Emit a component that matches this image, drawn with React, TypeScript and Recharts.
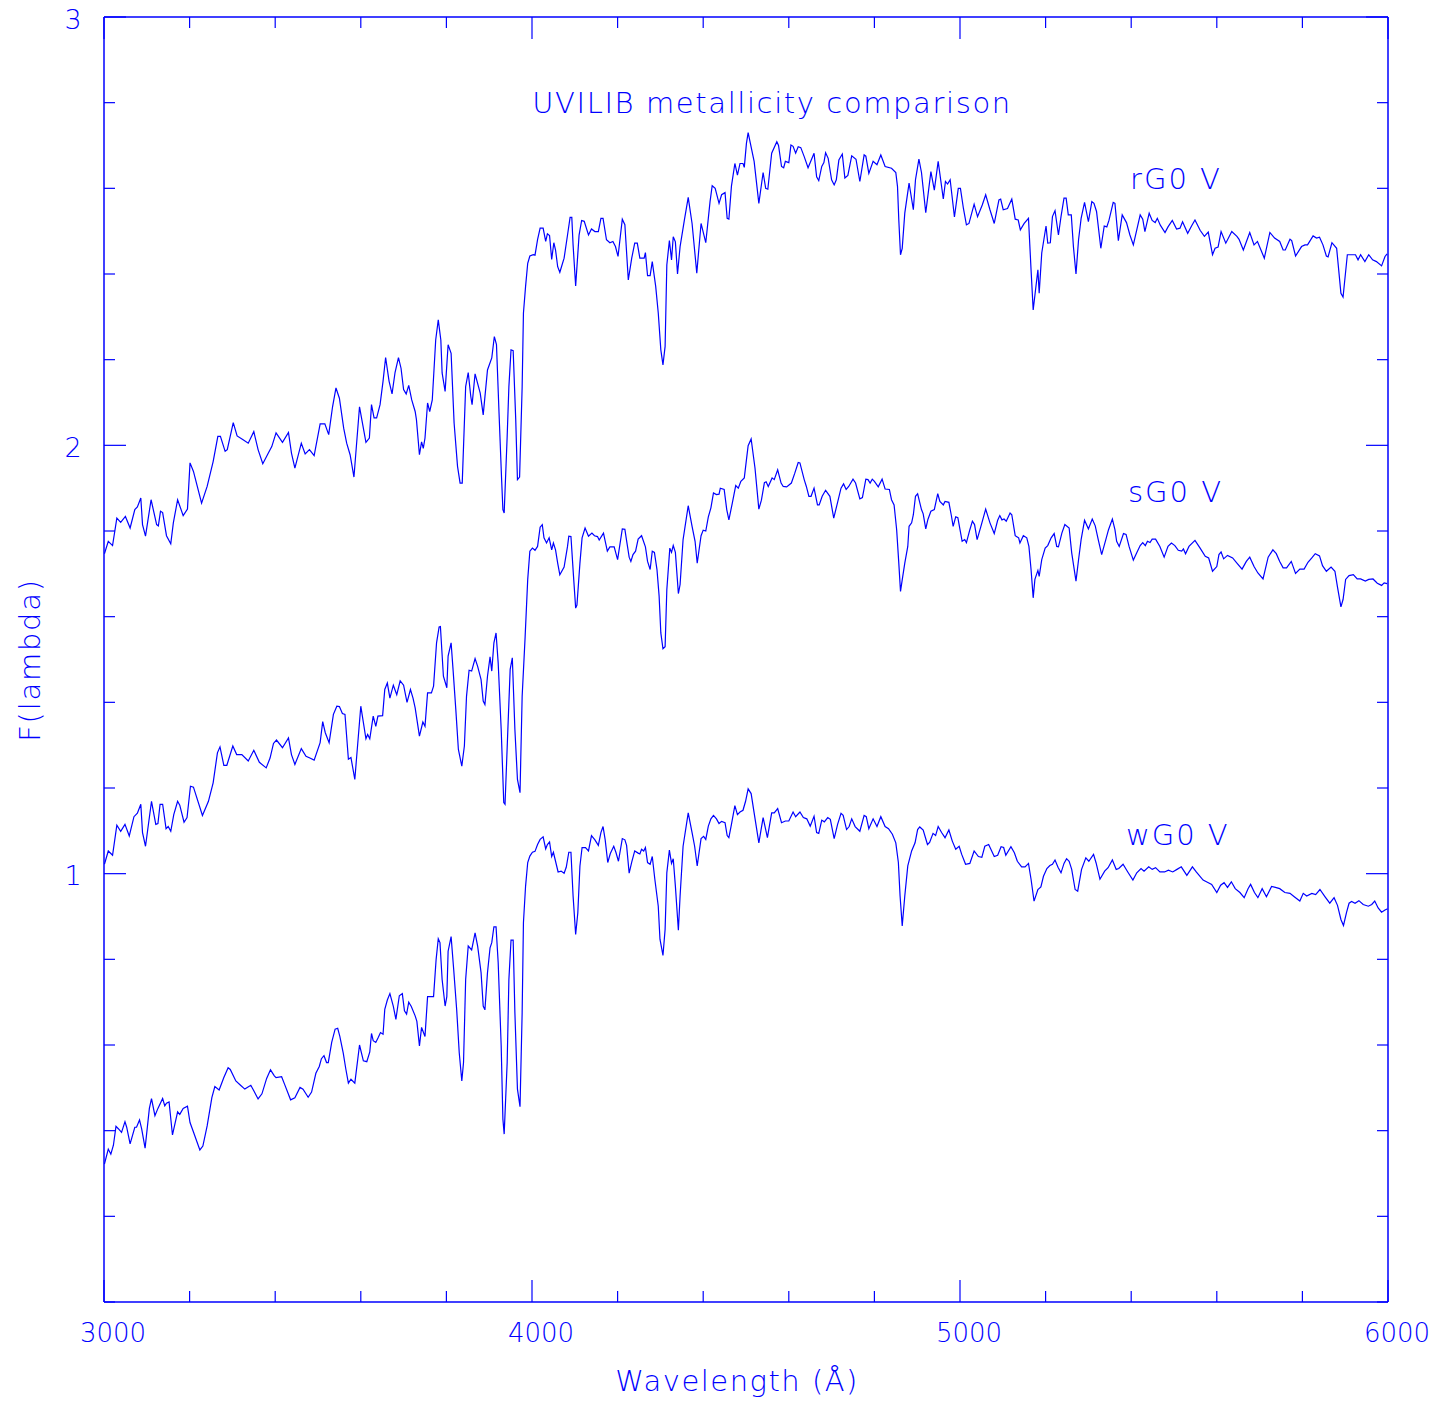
import { LineChart, Line, XAxis, YAxis } from "recharts";

// spectra: [wavelength (Å), F(lambda)]
const rG0: [number, number][] = [
  [3001,1.747],[3010,1.776],[3020,1.766],[3030,1.830],[3039,1.820],[3050,1.834],[3061,1.807],[3072,1.850],
  [3078,1.856],[3086,1.877],[3090,1.815],[3097,1.788],[3110,1.873],[3123,1.815],[3127,1.812],[3132,1.846],
  [3137,1.843],[3146,1.789],[3156,1.770],[3162,1.819],[3172,1.873],[3185,1.836],[3195,1.851],[3201,1.959],
  [3209,1.939],[3228,1.865],[3241,1.904],[3255,1.962],[3266,2.021],[3272,2.021],[3283,1.986],[3288,1.990],
  [3302,2.053],[3311,2.022],[3325,2.013],[3337,2.005],[3350,2.032],[3360,1.990],[3371,1.957],[3384,1.982],
  [3392,1.997],[3402,2.029],[3417,2.007],[3431,2.030],[3438,1.982],[3446,1.947],[3461,2.005],[3470,1.980],
  [3480,1.990],[3491,1.976],[3505,2.050],[3516,2.050],[3525,2.025],[3534,2.090],[3542,2.134],[3550,2.110],
  [3560,2.040],[3567,2.005],[3575,1.978],[3584,1.926],[3597,2.090],[3612,2.007],[3620,2.017],[3625,2.095],
  [3631,2.064],[3637,2.064],[3645,2.095],[3652,2.150],[3658,2.205],[3666,2.150],[3673,2.120],[3680,2.170],
  [3688,2.205],[3694,2.180],[3700,2.130],[3706,2.120],[3712,2.140],[3719,2.106],[3727,2.079],[3730,2.060],
  [3737,1.978],[3742,2.008],[3746,1.993],[3750,2.017],[3756,2.099],[3761,2.079],[3767,2.106],[3775,2.246],
  [3781,2.293],[3787,2.246],[3790,2.169],[3797,2.126],[3804,2.235],[3811,2.215],[3818,2.052],[3826,1.951],
  [3832,1.912],[3837,1.912],[3845,2.137],[3851,2.170],[3857,2.114],[3860,2.095],[3867,2.167],[3879,2.122],
  [3886,2.071],[3896,2.176],[3906,2.204],[3912,2.254],[3917,2.235],[3923,2.075],[3929,1.920],[3932,1.850],
  [3935,1.842],[3942,2.021],[3946,2.137],[3951,2.223],[3956,2.221],[3962,2.060],[3966,1.920],[3971,1.926],
  [3977,2.137],[3980,2.309],[3985,2.371],[3990,2.425],[3995,2.442],[4003,2.445],[4007,2.444],[4013,2.480],
  [4019,2.507],[4026,2.507],[4032,2.476],[4036,2.494],[4041,2.490],[4046,2.434],[4051,2.473],[4055,2.456],
  [4060,2.417],[4065,2.404],[4075,2.437],[4083,2.491],[4089,2.532],[4093,2.532],[4096,2.468],[4102,2.372],
  [4110,2.491],[4116,2.525],[4122,2.523],[4132,2.491],[4139,2.505],[4147,2.499],[4155,2.499],[4161,2.530],
  [4166,2.530],[4174,2.480],[4182,2.473],[4189,2.476],[4195,2.464],[4201,2.441],[4211,2.528],[4217,2.515],
  [4225,2.386],[4233,2.437],[4240,2.472],[4246,2.472],[4252,2.437],[4262,2.437],[4265,2.450],[4270,2.396],
  [4276,2.396],[4281,2.429],[4289,2.371],[4295,2.309],[4301,2.223],[4306,2.188],[4311,2.231],[4315,2.421],
  [4321,2.478],[4326,2.433],[4330,2.487],[4335,2.475],[4340,2.400],[4346,2.464],[4356,2.526],[4365,2.579],
  [4374,2.518],[4385,2.402],[4395,2.518],[4406,2.473],[4416,2.569],[4421,2.606],[4428,2.600],[4437,2.565],
  [4443,2.585],[4451,2.590],[4456,2.530],[4460,2.528],[4466,2.605],[4474,2.658],[4480,2.631],[4486,2.658],
  [4493,2.658],[4496,2.649],[4501,2.705],[4505,2.730],[4519,2.663],[4530,2.565],[4540,2.637],[4546,2.600],
  [4551,2.598],[4560,2.682],[4572,2.709],[4576,2.700],[4583,2.651],[4588,2.648],[4592,2.663],[4600,2.660],
  [4605,2.701],[4610,2.698],[4616,2.682],[4622,2.697],[4628,2.695],[4636,2.674],[4645,2.648],[4659,2.682],
  [4665,2.627],[4670,2.618],[4677,2.651],[4682,2.660],[4686,2.683],[4692,2.670],[4700,2.620],[4706,2.608],
  [4711,2.620],[4717,2.666],[4725,2.680],[4731,2.624],[4738,2.630],[4747,2.676],[4757,2.668],[4766,2.616],
  [4776,2.678],[4780,2.675],[4787,2.635],[4797,2.663],[4806,2.655],[4815,2.678],[4825,2.651],[4840,2.647],
  [4850,2.637],[4854,2.604],[4857,2.526],[4861,2.445],[4865,2.460],[4871,2.542],[4881,2.612],[4891,2.550],
  [4896,2.620],[4904,2.668],[4910,2.637],[4920,2.543],[4932,2.639],[4940,2.596],[4949,2.663],[4961,2.575],
  [4966,2.616],[4971,2.610],[4977,2.620],[4987,2.533],[4996,2.600],[5001,2.600],[5008,2.553],[5015,2.515],
  [5021,2.518],[5033,2.563],[5041,2.534],[5052,2.561],[5060,2.585],[5070,2.550],[5080,2.518],[5091,2.573],
  [5095,2.575],[5101,2.550],[5111,2.553],[5121,2.575],[5129,2.528],[5136,2.526],[5141,2.503],[5150,2.518],
  [5160,2.530],[5166,2.410],[5171,2.316],[5182,2.410],[5185,2.355],[5191,2.449],[5201,2.512],[5205,2.472],
  [5211,2.473],[5216,2.534],[5222,2.548],[5230,2.491],[5236,2.534],[5243,2.577],[5248,2.577],[5253,2.538],
  [5260,2.538],[5265,2.464],[5271,2.400],[5277,2.480],[5283,2.530],[5291,2.567],[5300,2.522],[5308,2.569],
  [5313,2.565],[5319,2.546],[5329,2.460],[5337,2.512],[5343,2.510],[5348,2.525],[5358,2.567],[5362,2.565],
  [5370,2.478],[5379,2.538],[5389,2.520],[5397,2.491],[5405,2.468],[5413,2.503],[5421,2.538],[5427,2.528],
  [5432,2.499],[5442,2.542],[5449,2.525],[5456,2.520],[5461,2.530],[5468,2.514],[5479,2.497],[5486,2.510],
  [5496,2.525],[5506,2.505],[5514,2.507],[5520,2.522],[5532,2.495],[5541,2.512],[5549,2.526],[5561,2.502],
  [5571,2.488],[5580,2.498],[5590,2.445],[5596,2.460],[5603,2.463],[5610,2.499],[5621,2.472],[5635,2.499],
  [5647,2.488],[5652,2.481],[5662,2.456],[5677,2.497],[5687,2.468],[5695,2.476],[5711,2.437],[5724,2.497],
  [5735,2.484],[5747,2.476],[5755,2.456],[5760,2.456],[5771,2.481],[5775,2.478],[5784,2.442],[5798,2.464],
  [5806,2.468],[5812,2.468],[5825,2.489],[5833,2.484],[5840,2.486],[5848,2.468],[5856,2.442],[5860,2.440],
  [5869,2.473],[5880,2.460],[5890,2.355],[5895,2.346],[5905,2.445],[5914,2.445],[5924,2.445],[5930,2.433],
  [5936,2.445],[5946,2.429],[5955,2.445],[5964,2.433],[5973,2.429],[5985,2.419],[5993,2.441],[5998,2.447],
];

const sG0: [number, number][] = [
  [3001,1.022],[3010,1.053],[3020,1.043],[3030,1.113],[3039,1.099],[3049,1.115],[3059,1.088],[3070,1.133],
  [3078,1.141],[3086,1.162],[3090,1.096],[3097,1.064],[3111,1.169],[3121,1.115],[3126,1.117],[3131,1.162],
  [3137,1.162],[3145,1.105],[3150,1.110],[3156,1.099],[3163,1.138],[3172,1.169],[3177,1.160],[3187,1.120],
  [3194,1.131],[3202,1.204],[3209,1.202],[3230,1.136],[3244,1.169],[3255,1.212],[3265,1.282],[3271,1.296],
  [3280,1.253],[3287,1.253],[3301,1.298],[3310,1.278],[3322,1.278],[3337,1.263],[3350,1.288],[3363,1.260],
  [3379,1.247],[3388,1.270],[3396,1.304],[3403,1.312],[3417,1.294],[3431,1.317],[3438,1.278],[3446,1.255],
  [3461,1.292],[3472,1.274],[3481,1.270],[3491,1.265],[3505,1.306],[3511,1.355],[3517,1.329],[3526,1.306],
  [3536,1.372],[3544,1.391],[3550,1.390],[3557,1.374],[3563,1.372],[3571,1.267],[3577,1.271],[3586,1.220],
  [3600,1.391],[3612,1.315],[3616,1.325],[3621,1.315],[3629,1.368],[3635,1.344],[3640,1.368],[3651,1.369],
  [3656,1.430],[3662,1.445],[3668,1.410],[3676,1.440],[3684,1.418],[3692,1.450],[3700,1.440],[3708,1.400],
  [3716,1.430],[3722,1.410],[3727,1.387],[3737,1.321],[3745,1.354],[3750,1.344],[3756,1.422],[3765,1.422],
  [3770,1.438],[3777,1.539],[3783,1.576],[3786,1.577],[3793,1.461],[3801,1.434],[3804,1.508],[3811,1.539],
  [3816,1.470],[3822,1.383],[3828,1.290],[3836,1.251],[3842,1.298],[3847,1.414],[3853,1.475],[3859,1.473],
  [3867,1.502],[3873,1.484],[3881,1.453],[3886,1.403],[3890,1.395],[3896,1.461],[3902,1.506],[3906,1.473],
  [3911,1.539],[3916,1.562],[3921,1.492],[3928,1.337],[3934,1.166],[3937,1.162],[3943,1.321],[3949,1.477],
  [3954,1.504],[3960,1.337],[3966,1.220],[3972,1.189],[3977,1.414],[3984,1.554],[3990,1.687],[3995,1.753],
  [4001,1.760],[4007,1.755],[4013,1.764],[4019,1.809],[4024,1.815],[4028,1.784],[4034,1.772],[4040,1.784],
  [4046,1.756],[4050,1.772],[4055,1.756],[4060,1.725],[4065,1.698],[4075,1.716],[4083,1.764],[4086,1.788],
  [4091,1.787],[4097,1.694],[4102,1.620],[4105,1.627],[4112,1.725],[4117,1.784],[4124,1.807],[4132,1.788],
  [4140,1.795],[4146,1.789],[4153,1.787],[4157,1.779],[4167,1.795],[4176,1.753],[4182,1.763],[4192,1.763],
  [4200,1.733],[4211,1.805],[4217,1.804],[4220,1.784],[4227,1.739],[4231,1.729],[4236,1.745],[4242,1.753],
  [4248,1.781],[4256,1.789],[4265,1.763],[4270,1.729],[4276,1.710],[4281,1.753],[4286,1.750],[4292,1.710],
  [4297,1.648],[4301,1.562],[4306,1.525],[4311,1.530],[4315,1.663],[4322,1.760],[4326,1.750],[4330,1.766],
  [4335,1.750],[4342,1.654],[4346,1.675],[4353,1.780],[4365,1.859],[4374,1.811],[4381,1.776],[4386,1.725],
  [4395,1.789],[4400,1.802],[4406,1.800],[4412,1.833],[4418,1.854],[4424,1.889],[4431,1.885],[4437,1.886],
  [4440,1.900],[4449,1.897],[4455,1.850],[4460,1.826],[4468,1.865],[4476,1.906],[4482,1.900],[4488,1.916],
  [4496,1.924],[4501,1.966],[4505,1.999],[4512,2.015],[4521,1.947],[4530,1.851],[4536,1.872],[4543,1.913],
  [4547,1.915],[4552,1.904],[4561,1.924],[4566,1.920],[4574,1.943],[4582,1.912],[4587,1.904],[4595,1.903],
  [4606,1.912],[4614,1.935],[4622,1.960],[4626,1.959],[4636,1.920],[4641,1.904],[4647,1.881],[4652,1.881],
  [4659,1.900],[4667,1.861],[4671,1.861],[4678,1.881],[4686,1.895],[4696,1.881],[4705,1.830],[4714,1.867],
  [4722,1.900],[4728,1.910],[4734,1.897],[4740,1.904],[4750,1.921],[4756,1.912],[4766,1.875],[4772,1.878],
  [4780,1.921],[4785,1.920],[4790,1.912],[4795,1.921],[4800,1.916],[4809,1.903],[4818,1.921],[4825,1.898],
  [4835,1.897],[4840,1.873],[4846,1.861],[4852,1.803],[4857,1.725],[4861,1.659],[4865,1.686],[4871,1.725],
  [4878,1.764],[4881,1.811],[4887,1.819],[4891,1.838],[4896,1.881],[4901,1.887],[4910,1.850],[4914,1.840],
  [4920,1.805],[4925,1.827],[4932,1.846],[4940,1.850],[4948,1.887],[4953,1.869],[4961,1.861],[4965,1.869],
  [4974,1.867],[4980,1.835],[4984,1.811],[4990,1.833],[4995,1.831],[5000,1.803],[5005,1.776],[5011,1.780],
  [5015,1.773],[5023,1.803],[5029,1.823],[5034,1.815],[5040,1.780],[5050,1.815],[5060,1.851],[5070,1.819],
  [5080,1.794],[5088,1.825],[5093,1.836],[5098,1.826],[5103,1.828],[5108,1.823],[5117,1.842],[5121,1.838],
  [5129,1.789],[5137,1.784],[5140,1.772],[5148,1.789],[5156,1.784],[5161,1.764],[5166,1.710],[5171,1.644],
  [5175,1.687],[5182,1.708],[5185,1.694],[5191,1.733],[5199,1.760],[5205,1.766],[5213,1.784],[5220,1.794],
  [5226,1.764],[5230,1.763],[5238,1.795],[5245,1.815],[5255,1.807],[5261,1.749],[5271,1.683],[5277,1.733],
  [5283,1.780],[5291,1.825],[5300,1.805],[5309,1.828],[5316,1.812],[5323,1.780],[5331,1.745],[5341,1.781],
  [5347,1.803],[5356,1.828],[5362,1.803],[5366,1.776],[5372,1.764],[5382,1.794],[5388,1.792],[5395,1.764],
  [5405,1.732],[5413,1.749],[5421,1.766],[5427,1.773],[5433,1.766],[5438,1.776],[5444,1.773],[5449,1.781],
  [5457,1.781],[5467,1.764],[5477,1.739],[5486,1.764],[5494,1.772],[5502,1.766],[5510,1.755],[5518,1.753],
  [5522,1.758],[5527,1.747],[5535,1.764],[5549,1.778],[5561,1.760],[5573,1.741],[5581,1.737],[5590,1.706],
  [5600,1.717],[5605,1.745],[5610,1.751],[5616,1.735],[5625,1.743],[5637,1.737],[5648,1.724],[5659,1.711],
  [5669,1.729],[5677,1.739],[5687,1.717],[5696,1.702],[5708,1.688],[5720,1.739],[5731,1.756],[5739,1.747],
  [5747,1.729],[5755,1.714],[5763,1.714],[5774,1.729],[5784,1.701],[5794,1.711],[5804,1.711],[5813,1.727],
  [5822,1.737],[5830,1.747],[5840,1.742],[5847,1.719],[5856,1.706],[5867,1.716],[5876,1.706],[5882,1.669],
  [5890,1.623],[5895,1.640],[5901,1.687],[5909,1.696],[5919,1.698],[5928,1.688],[5936,1.688],[5947,1.683],
  [5955,1.687],[5965,1.688],[5975,1.678],[5985,1.673],[5991,1.679],[5998,1.677],
];

const wG0: [number, number][] = [
  [3001,0.322],[3010,0.357],[3016,0.345],[3022,0.366],[3028,0.410],[3034,0.404],[3041,0.396],[3049,0.421],
  [3053,0.408],[3061,0.369],[3072,0.408],[3076,0.408],[3083,0.425],[3088,0.404],[3096,0.359],[3106,0.452],
  [3111,0.475],[3119,0.435],[3126,0.452],[3137,0.475],[3142,0.458],[3146,0.464],[3152,0.467],[3160,0.390],
  [3172,0.444],[3177,0.438],[3185,0.452],[3195,0.457],[3201,0.419],[3209,0.397],[3224,0.355],[3231,0.364],
  [3241,0.411],[3252,0.477],[3259,0.503],[3269,0.495],[3280,0.524],[3290,0.547],[3295,0.543],[3308,0.516],
  [3319,0.506],[3329,0.497],[3343,0.506],[3350,0.493],[3360,0.474],[3369,0.486],[3380,0.522],[3389,0.542],
  [3398,0.528],[3402,0.524],[3415,0.526],[3422,0.508],[3436,0.472],[3446,0.477],[3458,0.501],[3465,0.497],
  [3477,0.478],[3485,0.490],[3495,0.534],[3503,0.550],[3508,0.568],[3514,0.575],[3520,0.559],[3524,0.559],
  [3532,0.606],[3540,0.637],[3546,0.639],[3551,0.620],[3559,0.581],[3565,0.544],[3571,0.511],[3577,0.520],
  [3586,0.511],[3597,0.600],[3606,0.563],[3614,0.561],[3621,0.584],[3625,0.627],[3629,0.610],[3635,0.606],
  [3641,0.618],[3646,0.629],[3652,0.625],[3656,0.683],[3662,0.705],[3668,0.720],[3676,0.690],[3682,0.660],
  [3690,0.715],[3697,0.720],[3702,0.680],[3707,0.672],[3712,0.700],[3718,0.690],[3727,0.668],[3731,0.655],
  [3737,0.598],[3742,0.641],[3750,0.620],[3756,0.713],[3765,0.713],[3770,0.713],[3776,0.800],[3781,0.848],
  [3785,0.839],[3790,0.753],[3797,0.691],[3801,0.713],[3804,0.819],[3811,0.853],[3817,0.777],[3824,0.683],
  [3830,0.582],[3836,0.516],[3840,0.559],[3845,0.753],[3851,0.831],[3859,0.822],[3867,0.862],[3873,0.831],
  [3881,0.769],[3886,0.691],[3890,0.682],[3896,0.769],[3902,0.827],[3906,0.839],[3911,0.876],[3916,0.876],
  [3921,0.792],[3928,0.598],[3932,0.427],[3935,0.392],[3942,0.559],[3946,0.753],[3951,0.845],[3956,0.845],
  [3960,0.676],[3966,0.497],[3972,0.456],[3977,0.676],[3980,0.886],[3985,0.971],[3990,1.026],[3995,1.041],
  [4001,1.050],[4007,1.052],[4013,1.068],[4019,1.080],[4026,1.086],[4032,1.058],[4036,1.068],[4041,1.074],
  [4046,1.040],[4050,1.050],[4055,1.029],[4061,1.004],[4068,1.006],[4075,1.001],[4080,1.015],[4086,1.050],
  [4091,1.050],[4096,0.948],[4102,0.858],[4107,0.908],[4112,1.018],[4117,1.061],[4125,1.061],[4132,1.053],
  [4139,1.089],[4147,1.079],[4155,1.066],[4161,1.096],[4166,1.110],[4171,1.079],[4177,1.026],[4183,1.047],
  [4191,1.064],[4196,1.050],[4202,1.029],[4211,1.082],[4217,1.079],[4221,1.066],[4227,1.001],[4233,1.027],
  [4240,1.053],[4248,1.048],[4252,1.046],[4256,1.057],[4261,1.053],[4265,1.061],[4270,1.026],[4276,1.022],
  [4281,1.040],[4287,0.987],[4295,0.924],[4299,0.847],[4306,0.809],[4311,0.870],[4315,1.002],[4321,1.055],
  [4326,1.024],[4330,1.035],[4335,0.971],[4342,0.868],[4346,0.948],[4353,1.064],[4365,1.142],[4374,1.096],
  [4380,1.064],[4386,1.018],[4395,1.082],[4401,1.087],[4406,1.080],[4412,1.111],[4418,1.128],[4424,1.136],
  [4431,1.128],[4437,1.117],[4443,1.122],[4451,1.119],[4456,1.089],[4460,1.084],[4466,1.115],[4474,1.159],
  [4480,1.138],[4486,1.144],[4493,1.148],[4499,1.169],[4505,1.198],[4512,1.187],[4519,1.142],[4530,1.072],
  [4540,1.131],[4550,1.084],[4560,1.142],[4566,1.142],[4574,1.152],[4583,1.119],[4592,1.123],[4600,1.123],
  [4610,1.144],[4616,1.133],[4626,1.144],[4634,1.131],[4642,1.128],[4650,1.111],[4659,1.134],[4665,1.096],
  [4670,1.094],[4677,1.125],[4683,1.121],[4691,1.131],[4697,1.127],[4706,1.082],[4714,1.115],[4722,1.141],
  [4727,1.136],[4735,1.103],[4741,1.110],[4747,1.128],[4755,1.110],[4766,1.099],[4776,1.136],[4781,1.133],
  [4787,1.105],[4797,1.128],[4806,1.110],[4815,1.133],[4825,1.110],[4833,1.105],[4842,1.092],[4850,1.072],
  [4856,1.026],[4860,0.948],[4865,0.878],[4871,0.948],[4878,1.018],[4887,1.053],[4895,1.072],[4901,1.103],
  [4906,1.109],[4914,1.102],[4924,1.068],[4929,1.073],[4937,1.094],[4943,1.089],[4949,1.110],[4957,1.096],
  [4965,1.084],[4974,1.102],[4982,1.076],[4990,1.057],[4998,1.064],[5004,1.045],[5013,1.022],[5023,1.024],
  [5033,1.053],[5043,1.040],[5051,1.038],[5058,1.064],[5067,1.068],[5080,1.040],[5088,1.043],[5096,1.063],
  [5102,1.061],[5107,1.043],[5119,1.063],[5127,1.049],[5134,1.029],[5144,1.016],[5152,1.016],[5160,1.024],
  [5166,0.987],[5173,0.936],[5182,0.963],[5189,0.969],[5195,0.994],[5203,1.012],[5210,1.019],[5216,1.022],
  [5222,1.032],[5229,1.015],[5236,1.002],[5243,1.024],[5249,1.035],[5255,1.029],[5261,1.010],[5269,0.963],
  [5275,0.959],[5284,1.010],[5294,1.037],[5301,1.029],[5312,1.045],[5318,1.025],[5327,0.987],[5338,1.006],
  [5346,1.014],[5356,1.032],[5365,1.010],[5371,1.012],[5381,1.022],[5392,1.004],[5404,0.985],[5413,1.002],
  [5423,1.012],[5430,1.006],[5441,1.016],[5449,1.010],[5457,1.014],[5467,1.004],[5478,1.004],[5487,1.008],
  [5497,1.004],[5507,1.010],[5517,1.016],[5530,0.996],[5543,1.016],[5552,1.004],[5568,0.985],[5578,0.980],
  [5588,0.975],[5600,0.956],[5609,0.973],[5617,0.979],[5625,0.968],[5634,0.981],[5643,0.965],[5654,0.956],
  [5664,0.944],[5673,0.965],[5679,0.975],[5688,0.956],[5696,0.944],[5706,0.965],[5716,0.946],[5728,0.970],
  [5737,0.968],[5747,0.965],[5759,0.956],[5771,0.954],[5781,0.946],[5794,0.936],[5802,0.954],[5810,0.948],
  [5822,0.954],[5831,0.951],[5841,0.963],[5853,0.946],[5864,0.931],[5874,0.944],[5882,0.926],[5890,0.893],
  [5896,0.879],[5903,0.909],[5909,0.931],[5915,0.935],[5923,0.931],[5932,0.937],[5942,0.928],[5954,0.924],
  [5962,0.928],[5969,0.936],[5977,0.920],[5985,0.910],[5993,0.915],[5999,0.918],
];

const xTicks = [3000, 3200, 3400, 3600, 3800, 4000, 4200, 4400, 4600, 4800, 5000, 5200, 5400, 5600, 5800, 6000];
const xLabelled = [3000, 4000, 5000, 6000];
const yTicks = [0, 0.2, 0.4, 0.6, 0.8, 1, 1.2, 1.4, 1.6, 1.8, 2, 2.2, 2.4, 2.6, 2.8, 3];
const yLabelled = [1, 2, 3];

const BLUE = "#0000ff";
const FONT = "'DejaVu Sans', sans-serif";

const toRows = (pts: [number, number][]) => pts.map(([wave, flux]) => ({ wave, flux }));

const isMajor = (v: number, majors: number[]) => majors.some((m) => Math.abs(m - v) < 1e-6);

const BottomTick = (props: any) => {
  const { x, y, payload } = props;
  const major = isMajor(payload.value, xLabelled);
  return (
    <g>
      <line x1={x} x2={x} y1={y} y2={y - (major ? 22 : 11)} stroke={BLUE} strokeWidth={1.2} />
      {major && (
        <text x={x + 9} y={y + 31} fill={BLUE} fontSize={26} fontFamily={FONT} fontWeight={200} textAnchor="middle" dominantBaseline="central">
          {payload.value}
        </text>
      )}
    </g>
  );
};

const TopTick = (props: any) => {
  const { x, y, payload } = props;
  const major = isMajor(payload.value, xLabelled);
  return <line x1={x} x2={x} y1={y} y2={y + (major ? 22 : 11)} stroke={BLUE} strokeWidth={1.2} />;
};

const LeftTick = (props: any) => {
  const { x, y, payload } = props;
  const major = isMajor(payload.value, yLabelled);
  return (
    <g>
      <line x1={x} x2={x + (major ? 22 : 11)} y1={y} y2={y} stroke={BLUE} strokeWidth={1.2} />
      {major && (
        <text x={x - 31} y={y + 2} fill={BLUE} fontSize={27} fontFamily={FONT} fontWeight={200} textAnchor="middle" dominantBaseline="central">
          {payload.value}
        </text>
      )}
    </g>
  );
};

const RightTick = (props: any) => {
  const { x, y, payload } = props;
  const major = isMajor(payload.value, yLabelled);
  return <line x1={x} x2={x - (major ? 22 : 11)} y1={y} y2={y} stroke={BLUE} strokeWidth={1.2} />;
};

const txt = { fill: BLUE, fontFamily: FONT, fontWeight: 200, fontSize: 29 } as const;

export default function App() {
  return (
    <div style={{ position: "absolute", left: 0, top: 0, width: 1452, height: 1406, background: "#fff" }}>
      <LineChart width={1452} height={1406} margin={{ top: 16, right: 63, left: 44, bottom: 44 }}>
        <XAxis xAxisId="b" dataKey="wave" type="number" domain={[3000, 6000]} ticks={xTicks} interval={0}
          allowDataOverflow height={60} tickSize={0} tickMargin={0} axisLine={{ stroke: BLUE, strokeWidth: 1.5 }} tick={<BottomTick />} />
        <XAxis xAxisId="t" orientation="top" dataKey="wave" type="number" domain={[3000, 6000]} ticks={xTicks} interval={0}
          allowDataOverflow height={1} tickSize={0} tickMargin={0} axisLine={{ stroke: BLUE, strokeWidth: 1.5 }} tick={<TopTick />} />
        <YAxis yAxisId="l" type="number" domain={[0, 3]} ticks={yTicks} interval={0} allowDataOverflow width={60}
          tickSize={0} tickMargin={0} axisLine={{ stroke: BLUE, strokeWidth: 1.5 }} tick={<LeftTick />} />
        <YAxis yAxisId="r" orientation="right" type="number" domain={[0, 3]} ticks={yTicks} interval={0} allowDataOverflow width={1}
          tickSize={0} tickMargin={0} axisLine={{ stroke: BLUE, strokeWidth: 1.5 }} tick={<RightTick />} />
        <Line xAxisId="b" yAxisId="l" data={toRows(rG0)} dataKey="flux" type="linear" stroke={BLUE} strokeWidth={1.2} dot={false} isAnimationActive={false} />
        <Line xAxisId="b" yAxisId="l" data={toRows(sG0)} dataKey="flux" type="linear" stroke={BLUE} strokeWidth={1.2} dot={false} isAnimationActive={false} />
        <Line xAxisId="b" yAxisId="l" data={toRows(wG0)} dataKey="flux" type="linear" stroke={BLUE} strokeWidth={1.2} dot={false} isAnimationActive={false} />
      </LineChart>
      <svg width={1452} height={1406} style={{ position: "absolute", left: 0, top: 0, pointerEvents: "none" }}>
        <text x={772} y={103} textAnchor="middle" dominantBaseline="central" {...txt} letterSpacing={1.6}>UVILIB metallicity comparison</text>
        <text x={1130} y={179} dominantBaseline="central" {...txt} letterSpacing={2}>rG0 V</text>
        <text x={1128} y={492} dominantBaseline="central" {...txt} letterSpacing={2}>sG0 V</text>
        <text x={1126} y={835} dominantBaseline="central" {...txt} letterSpacing={2}>wG0 V</text>
        <text x={737} y={1381} textAnchor="middle" dominantBaseline="central" {...txt} letterSpacing={1.5}>Wavelength (Å)</text>
        <text x={30} y={660} textAnchor="middle" dominantBaseline="central" transform="rotate(-90 30 660)" {...txt} letterSpacing={1.75}>F(lambda)</text>
      </svg>
    </div>
  );
}
